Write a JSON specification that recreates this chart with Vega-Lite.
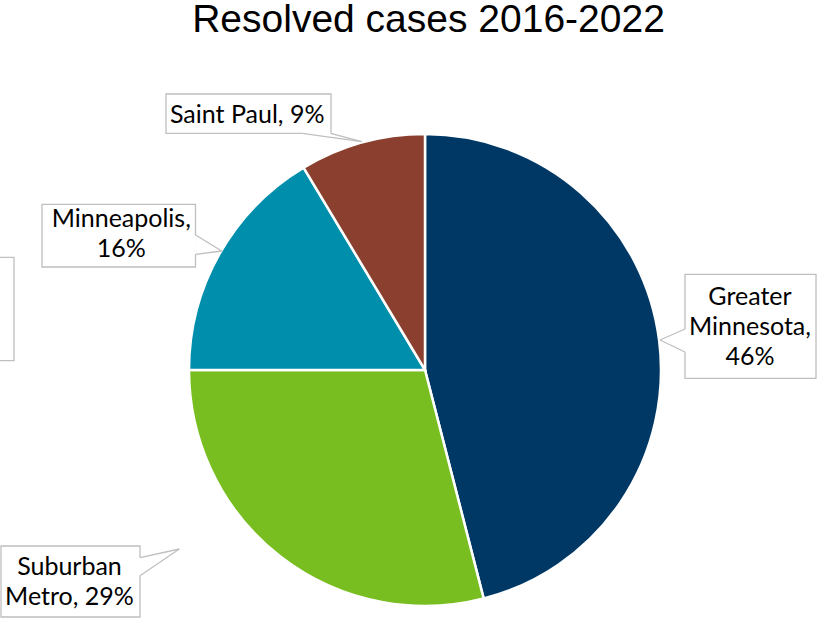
{
  "$schema": "https://vega.github.io/schema/vega-lite/v6.json",
  "width": 817,
  "height": 568,
  "autosize": "none",
  "padding": {"top": 50, "left": 0, "right": 0, "bottom": 0},
  "background": "white",
  "config": {"view": {"stroke": null}},
  "title": {
    "text": "Resolved cases 2016-2022",
    "font": "Liberation Sans",
    "fontSize": 39,
    "fontWeight": "normal",
    "color": "#000000",
    "anchor": "middle",
    "frame": "group",
    "baseline": "alphabetic",
    "offset": 11,
    "dx": 20,
    "dy": 32
  },
  "datasets": {
    "slices": [
      {"region": "Greater Minnesota", "value": 46.0},
      {"region": "Suburban Metro", "value": 29.0},
      {"region": "Minneapolis", "value": 16.4},
      {"region": "Saint Paul", "value": 8.6}
    ],
    "boxes": [
      {"label": "Saint Paul, 9%", "x1": -1.0975, "x2": -0.3983, "y1": 1.1695, "y2": 1.003, "cx": -0.7534, "cy": 1.0453,
       "ax": -0.5199, "ay": 1.003, "tx": -0.2682, "ty": 0.9674, "bx": -0.3996, "by": 1.003},
      {"label": "Minneapolis,\n16%", "x1": -1.6229, "x2": -0.9725, "y1": 0.7021, "y2": 0.4364, "cx": -1.2869, "cy": 0.6059,
       "ax": -0.9725, "ay": 0.572, "tx": -0.8614, "ty": 0.5042, "bx": -0.9725, "by": 0.4903},
      {"label": "Greater\nMinnesota,\n46%", "x1": 1.1017, "x2": 1.6568, "y1": 0.4055, "y2": -0.0352, "cx": 1.3771, "cy": 0.2775,
       "ax": 1.1017, "ay": 0.1737, "tx": 0.9958, "ty": 0.1271, "bx": 1.1017, "by": 0.0763},
      {"label": "Suburban\nMetro, 29%", "x1": -1.7966, "x2": -1.2076, "y1": -0.7458, "y2": -1.0466, "cx": -1.5064, "cy": -0.8686,
       "ax": -1.2076, "ay": -0.7953, "tx": -1.0411, "ty": -0.7585, "bx": -1.2076, "by": -0.8716},
      {"label": "", "x1": -2.4, "x2": -1.7415, "y1": 0.4775, "y2": 0.0394, "cx": -2.07, "cy": 0.2585,
       "ax": null, "ay": null, "tx": null, "ty": null, "bx": null, "by": null}
    ]
  },
  "layer": [
    {
      "data": {"name": "slices"},
      "mark": {"type": "arc", "outerRadius": 236, "stroke": "white", "strokeWidth": 2.5},
      "encoding": {
        "theta": {"field": "value", "type": "quantitative", "stack": true},
        "order": {"field": "value", "type": "quantitative", "sort": "descending"},
        "color": {
          "field": "region", "type": "nominal", "legend": null,
          "scale": {
            "domain": ["Greater Minnesota", "Suburban Metro", "Minneapolis", "Saint Paul"],
            "range": ["#003865", "#78BE21", "#008EAD", "#8B3F2E"]
          }
        },
        "x": {"datum": 0, "type": "quantitative", "axis": null, "scale": {"domain": [-1.80085, 1.66102], "nice": false, "zero": false}},
        "y": {"datum": 0, "type": "quantitative", "axis": null, "scale": {"domain": [-1.05085, 1.35593], "nice": false, "zero": false}}
      }
    },
    {
      "data": {"name": "boxes"},
      "mark": {"type": "rect", "fill": "white", "stroke": "#BFBFBF", "strokeWidth": 1.3},
      "encoding": {
        "x": {"field": "x1", "type": "quantitative", "axis": null, "scale": {"domain": [-1.80085, 1.66102], "nice": false, "zero": false}},
        "x2": {"field": "x2"},
        "y": {"field": "y1", "type": "quantitative", "axis": null, "scale": {"domain": [-1.05085, 1.35593], "nice": false, "zero": false}},
        "y2": {"field": "y2"}
      }
    },
    {
      "data": {"name": "boxes"},
      "mark": {"type": "rule", "stroke": "white", "strokeWidth": 2.5},
      "encoding": {
        "x": {"field": "ax", "type": "quantitative", "axis": null, "scale": {"domain": [-1.80085, 1.66102], "nice": false, "zero": false}},
        "x2": {"field": "bx"},
        "y": {"field": "ay", "type": "quantitative", "axis": null, "scale": {"domain": [-1.05085, 1.35593], "nice": false, "zero": false}},
        "y2": {"field": "by"}
      }
    },
    {
      "data": {"name": "boxes"},
      "mark": {"type": "rule", "stroke": "#BFBFBF", "strokeWidth": 1.3},
      "encoding": {
        "x": {"field": "ax", "type": "quantitative", "axis": null, "scale": {"domain": [-1.80085, 1.66102], "nice": false, "zero": false}},
        "x2": {"field": "tx"},
        "y": {"field": "ay", "type": "quantitative", "axis": null, "scale": {"domain": [-1.05085, 1.35593], "nice": false, "zero": false}},
        "y2": {"field": "ty"}
      }
    },
    {
      "data": {"name": "boxes"},
      "mark": {"type": "rule", "stroke": "#BFBFBF", "strokeWidth": 1.3},
      "encoding": {
        "x": {"field": "bx", "type": "quantitative", "axis": null, "scale": {"domain": [-1.80085, 1.66102], "nice": false, "zero": false}},
        "x2": {"field": "tx"},
        "y": {"field": "by", "type": "quantitative", "axis": null, "scale": {"domain": [-1.05085, 1.35593], "nice": false, "zero": false}},
        "y2": {"field": "ty"}
      }
    },
    {
      "data": {"name": "boxes"},
      "mark": {"type": "text", "font": "Lato", "fontSize": 25, "color": "#000000", "align": "center", "baseline": "alphabetic", "lineBreak": "\n", "lineHeight": 30},
      "encoding": {
        "x": {"field": "cx", "type": "quantitative", "axis": null, "scale": {"domain": [-1.80085, 1.66102], "nice": false, "zero": false}},
        "y": {"field": "cy", "type": "quantitative", "axis": null, "scale": {"domain": [-1.05085, 1.35593], "nice": false, "zero": false}},
        "text": {"field": "label", "type": "nominal"}
      }
    }
  ]
}
